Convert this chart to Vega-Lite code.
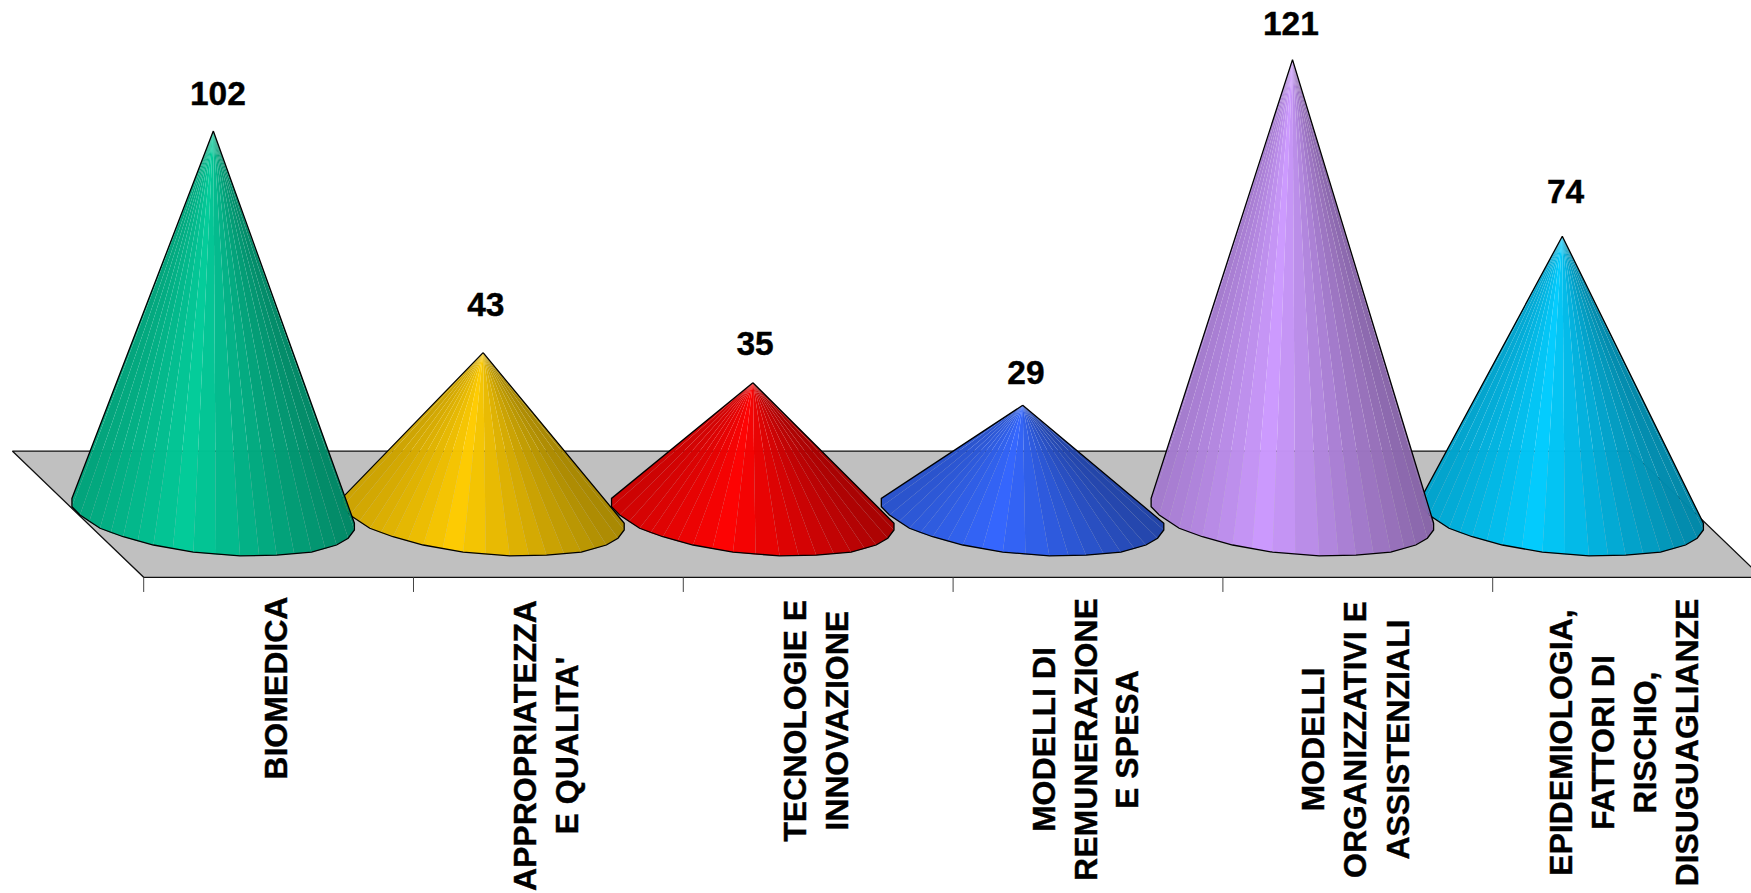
{"$schema":"https://vega.github.io/schema/vega-lite/v6.json","width":1751,"height":893,"autosize":{"type":"fit","contains":"padding"},"padding":0,"background":"white","view":{"stroke":null},
"datasets":{
"plane":[{"x":-0.745,"y":16.8},{"x":5.253,"y":16.8},{"x":5.74,"y":-16.8},{"x":-0.258,"y":-16.8},{"x":-0.745,"y":16.8}],
"ticks":[{"x":-0.258,"y":-16.8,"y2":-20.7},{"x":0.742,"y":-16.8,"y2":-20.7},{"x":1.742,"y":-16.8,"y2":-20.7},{"x":2.742,"y":-16.8,"y2":-20.7},{"x":3.742,"y":-16.8,"y2":-20.7},{"x":4.742,"y":-16.8,"y2":-20.7}],
"values":[{"name":"BIOMEDICA","value":102,"x":0.017,"y":111.6},{"name":"APPROPRIATEZZA E QUALITA'","value":43,"x":1.01,"y":55.4},{"name":"TECNOLOGIE E INNOVAZIONE","value":35,"x":2.008,"y":45},{"name":"MODELLI DI REMUNERAZIONE E SPESA","value":29,"x":3.012,"y":37.2},{"name":"MODELLI ORGANIZZATIVI E ASSISTENZIALI","value":121,"x":3.994,"y":130.1},{"name":"EPIDEMIOLOGIA, FATTORI DI RISCHIO, DISUGUAGLIANZE","value":74,"x":5.012,"y":85.5}],
"names":[{"line":"BIOMEDICA","x":0.236,"y":-46.3},{"line":"APPROPRIATEZZA","x":1.158,"y":-61.6},{"line":"E QUALITA'","x":1.316,"y":-61.6},{"line":"TECNOLOGIE E","x":2.159,"y":-55},{"line":"INNOVAZIONE","x":2.314,"y":-55},{"line":"MODELLI DI","x":3.083,"y":-60},{"line":"REMUNERAZIONE","x":3.237,"y":-60},{"line":"E SPESA","x":3.392,"y":-60},{"line":"MODELLI","x":4.081,"y":-60},{"line":"ORGANIZZATIVI E","x":4.236,"y":-60},{"line":"ASSISTENZIALI","x":4.395,"y":-60},{"line":"EPIDEMIOLOGIA,","x":5,"y":-60.8},{"line":"FATTORI DI","x":5.156,"y":-60.8},{"line":"RISCHIO,","x":5.311,"y":-60.8},{"line":"DISUGUAGLIANZE","x":5.466,"y":-60.8}],
"outline0":[{"x":0,"y":102},{"x":-0.524,"y":4.2},{"x":-0.524,"y":2},{"x":-0.494,"y":-0.2},{"x":-0.42,"y":-3.75},{"x":-0.334,"y":-6},{"x":-0.222,"y":-8.2},{"x":-0.074,"y":-10.1},{"x":0.099,"y":-11.1},{"x":0.235,"y":-10.9},{"x":0.364,"y":-10.1},{"x":0.457,"y":-8.2},{"x":0.5,"y":-6.4},{"x":0.523,"y":-4.2},{"x":0.523,"y":-2.4},{"x":0,"y":102}],
"outline1":[{"x":1,"y":43},{"x":0.476,"y":4.2},{"x":0.476,"y":2},{"x":0.506,"y":-0.2},{"x":0.58,"y":-3.75},{"x":0.666,"y":-6},{"x":0.778,"y":-8.2},{"x":0.926,"y":-10.1},{"x":1.099,"y":-11.1},{"x":1.235,"y":-10.9},{"x":1.364,"y":-10.1},{"x":1.457,"y":-8.2},{"x":1.5,"y":-6.4},{"x":1.523,"y":-4.2},{"x":1.523,"y":-2.4},{"x":1,"y":43}],
"outline2":[{"x":2,"y":35},{"x":1.476,"y":4.2},{"x":1.476,"y":2},{"x":1.506,"y":-0.2},{"x":1.58,"y":-3.75},{"x":1.666,"y":-6},{"x":1.778,"y":-8.2},{"x":1.926,"y":-10.1},{"x":2.099,"y":-11.1},{"x":2.235,"y":-10.9},{"x":2.364,"y":-10.1},{"x":2.457,"y":-8.2},{"x":2.5,"y":-6.4},{"x":2.523,"y":-4.2},{"x":2.523,"y":-2.4},{"x":2,"y":35}],
"outline3":[{"x":3,"y":29},{"x":2.476,"y":4.2},{"x":2.476,"y":2},{"x":2.506,"y":-0.2},{"x":2.58,"y":-3.75},{"x":2.666,"y":-6},{"x":2.778,"y":-8.2},{"x":2.926,"y":-10.1},{"x":3.099,"y":-11.1},{"x":3.235,"y":-10.9},{"x":3.364,"y":-10.1},{"x":3.457,"y":-8.2},{"x":3.5,"y":-6.4},{"x":3.523,"y":-4.2},{"x":3.523,"y":-2.4},{"x":3,"y":29}],
"outline4":[{"x":4,"y":121},{"x":3.476,"y":4.2},{"x":3.476,"y":2},{"x":3.506,"y":-0.2},{"x":3.58,"y":-3.75},{"x":3.666,"y":-6},{"x":3.778,"y":-8.2},{"x":3.926,"y":-10.1},{"x":4.099,"y":-11.1},{"x":4.235,"y":-10.9},{"x":4.364,"y":-10.1},{"x":4.457,"y":-8.2},{"x":4.5,"y":-6.4},{"x":4.523,"y":-4.2},{"x":4.523,"y":-2.4},{"x":4,"y":121}],
"outline5":[{"x":5,"y":74},{"x":4.476,"y":4.2},{"x":4.476,"y":2},{"x":4.506,"y":-0.2},{"x":4.58,"y":-3.75},{"x":4.666,"y":-6},{"x":4.778,"y":-8.2},{"x":4.926,"y":-10.1},{"x":5.099,"y":-11.1},{"x":5.235,"y":-10.9},{"x":5.364,"y":-10.1},{"x":5.457,"y":-8.2},{"x":5.5,"y":-6.4},{"x":5.523,"y":-4.2},{"x":5.523,"y":-2.4},{"x":5,"y":74}],
"facets0":[
{"tone":0,"x":0,"y":102},{"tone":0,"x":-0.524,"y":4.2},{"tone":0,"x":-0.524,"y":2},
{"tone":0.01,"x":0,"y":102},{"tone":0.01,"x":-0.524,"y":2},{"tone":0.01,"x":-0.494,"y":-0.2},
{"tone":0.045,"x":0,"y":102},{"tone":0.045,"x":-0.494,"y":-0.2},{"tone":0.045,"x":-0.46,"y":-2},
{"tone":0.08,"x":0,"y":102},{"tone":0.08,"x":-0.46,"y":-2},{"tone":0.08,"x":-0.42,"y":-3.75},
{"tone":0.12,"x":0,"y":102},{"tone":0.12,"x":-0.42,"y":-3.75},{"tone":0.12,"x":-0.38,"y":-5},
{"tone":0.16,"x":0,"y":102},{"tone":0.16,"x":-0.38,"y":-5},{"tone":0.16,"x":-0.334,"y":-6},
{"tone":0.21,"x":0,"y":102},{"tone":0.21,"x":-0.334,"y":-6},{"tone":0.21,"x":-0.28,"y":-7.2},
{"tone":0.26,"x":0,"y":102},{"tone":0.26,"x":-0.28,"y":-7.2},{"tone":0.26,"x":-0.222,"y":-8.2},
{"tone":0.32,"x":0,"y":102},{"tone":0.32,"x":-0.222,"y":-8.2},{"tone":0.32,"x":-0.15,"y":-9.2},
{"tone":0.39,"x":0,"y":102},{"tone":0.39,"x":-0.15,"y":-9.2},{"tone":0.39,"x":-0.074,"y":-10.1},
{"tone":0.47,"x":0,"y":102},{"tone":0.47,"x":-0.074,"y":-10.1},{"tone":0.47,"x":0.01,"y":-10.7},
{"tone":0.55,"x":0,"y":102},{"tone":0.55,"x":0.01,"y":-10.7},{"tone":0.55,"x":0.099,"y":-11.1},
{"tone":0.63,"x":0,"y":102},{"tone":0.63,"x":0.099,"y":-11.1},{"tone":0.63,"x":0.17,"y":-11.05},
{"tone":0.69,"x":0,"y":102},{"tone":0.69,"x":0.17,"y":-11.05},{"tone":0.69,"x":0.235,"y":-10.9},
{"tone":0.76,"x":0,"y":102},{"tone":0.76,"x":0.235,"y":-10.9},{"tone":0.76,"x":0.3,"y":-10.5},
{"tone":0.82,"x":0,"y":102},{"tone":0.82,"x":0.3,"y":-10.5},{"tone":0.82,"x":0.364,"y":-10.1},
{"tone":0.87,"x":0,"y":102},{"tone":0.87,"x":0.364,"y":-10.1},{"tone":0.87,"x":0.415,"y":-9.2},
{"tone":0.92,"x":0,"y":102},{"tone":0.92,"x":0.415,"y":-9.2},{"tone":0.92,"x":0.457,"y":-8.2},
{"tone":0.96,"x":0,"y":102},{"tone":0.96,"x":0.457,"y":-8.2},{"tone":0.96,"x":0.5,"y":-6.4},
{"tone":0.99,"x":0,"y":102},{"tone":0.99,"x":0.5,"y":-6.4},{"tone":0.99,"x":0.523,"y":-4.2},
{"tone":1,"x":0,"y":102},{"tone":1,"x":0.523,"y":-4.2},{"tone":1,"x":0.523,"y":-2.4}],
"facets1":[
{"tone":0,"x":1,"y":43},{"tone":0,"x":0.476,"y":4.2},{"tone":0,"x":0.476,"y":2},
{"tone":0.01,"x":1,"y":43},{"tone":0.01,"x":0.476,"y":2},{"tone":0.01,"x":0.506,"y":-0.2},
{"tone":0.045,"x":1,"y":43},{"tone":0.045,"x":0.506,"y":-0.2},{"tone":0.045,"x":0.54,"y":-2},
{"tone":0.08,"x":1,"y":43},{"tone":0.08,"x":0.54,"y":-2},{"tone":0.08,"x":0.58,"y":-3.75},
{"tone":0.12,"x":1,"y":43},{"tone":0.12,"x":0.58,"y":-3.75},{"tone":0.12,"x":0.62,"y":-5},
{"tone":0.16,"x":1,"y":43},{"tone":0.16,"x":0.62,"y":-5},{"tone":0.16,"x":0.666,"y":-6},
{"tone":0.21,"x":1,"y":43},{"tone":0.21,"x":0.666,"y":-6},{"tone":0.21,"x":0.72,"y":-7.2},
{"tone":0.26,"x":1,"y":43},{"tone":0.26,"x":0.72,"y":-7.2},{"tone":0.26,"x":0.778,"y":-8.2},
{"tone":0.32,"x":1,"y":43},{"tone":0.32,"x":0.778,"y":-8.2},{"tone":0.32,"x":0.85,"y":-9.2},
{"tone":0.39,"x":1,"y":43},{"tone":0.39,"x":0.85,"y":-9.2},{"tone":0.39,"x":0.926,"y":-10.1},
{"tone":0.47,"x":1,"y":43},{"tone":0.47,"x":0.926,"y":-10.1},{"tone":0.47,"x":1.01,"y":-10.7},
{"tone":0.55,"x":1,"y":43},{"tone":0.55,"x":1.01,"y":-10.7},{"tone":0.55,"x":1.099,"y":-11.1},
{"tone":0.63,"x":1,"y":43},{"tone":0.63,"x":1.099,"y":-11.1},{"tone":0.63,"x":1.17,"y":-11.05},
{"tone":0.69,"x":1,"y":43},{"tone":0.69,"x":1.17,"y":-11.05},{"tone":0.69,"x":1.235,"y":-10.9},
{"tone":0.76,"x":1,"y":43},{"tone":0.76,"x":1.235,"y":-10.9},{"tone":0.76,"x":1.3,"y":-10.5},
{"tone":0.82,"x":1,"y":43},{"tone":0.82,"x":1.3,"y":-10.5},{"tone":0.82,"x":1.364,"y":-10.1},
{"tone":0.87,"x":1,"y":43},{"tone":0.87,"x":1.364,"y":-10.1},{"tone":0.87,"x":1.415,"y":-9.2},
{"tone":0.92,"x":1,"y":43},{"tone":0.92,"x":1.415,"y":-9.2},{"tone":0.92,"x":1.457,"y":-8.2},
{"tone":0.96,"x":1,"y":43},{"tone":0.96,"x":1.457,"y":-8.2},{"tone":0.96,"x":1.5,"y":-6.4},
{"tone":0.99,"x":1,"y":43},{"tone":0.99,"x":1.5,"y":-6.4},{"tone":0.99,"x":1.523,"y":-4.2},
{"tone":1,"x":1,"y":43},{"tone":1,"x":1.523,"y":-4.2},{"tone":1,"x":1.523,"y":-2.4}],
"facets2":[
{"tone":0,"x":2,"y":35},{"tone":0,"x":1.476,"y":4.2},{"tone":0,"x":1.476,"y":2},
{"tone":0.01,"x":2,"y":35},{"tone":0.01,"x":1.476,"y":2},{"tone":0.01,"x":1.506,"y":-0.2},
{"tone":0.045,"x":2,"y":35},{"tone":0.045,"x":1.506,"y":-0.2},{"tone":0.045,"x":1.54,"y":-2},
{"tone":0.08,"x":2,"y":35},{"tone":0.08,"x":1.54,"y":-2},{"tone":0.08,"x":1.58,"y":-3.75},
{"tone":0.12,"x":2,"y":35},{"tone":0.12,"x":1.58,"y":-3.75},{"tone":0.12,"x":1.62,"y":-5},
{"tone":0.16,"x":2,"y":35},{"tone":0.16,"x":1.62,"y":-5},{"tone":0.16,"x":1.666,"y":-6},
{"tone":0.21,"x":2,"y":35},{"tone":0.21,"x":1.666,"y":-6},{"tone":0.21,"x":1.72,"y":-7.2},
{"tone":0.26,"x":2,"y":35},{"tone":0.26,"x":1.72,"y":-7.2},{"tone":0.26,"x":1.778,"y":-8.2},
{"tone":0.32,"x":2,"y":35},{"tone":0.32,"x":1.778,"y":-8.2},{"tone":0.32,"x":1.85,"y":-9.2},
{"tone":0.39,"x":2,"y":35},{"tone":0.39,"x":1.85,"y":-9.2},{"tone":0.39,"x":1.926,"y":-10.1},
{"tone":0.47,"x":2,"y":35},{"tone":0.47,"x":1.926,"y":-10.1},{"tone":0.47,"x":2.01,"y":-10.7},
{"tone":0.55,"x":2,"y":35},{"tone":0.55,"x":2.01,"y":-10.7},{"tone":0.55,"x":2.099,"y":-11.1},
{"tone":0.63,"x":2,"y":35},{"tone":0.63,"x":2.099,"y":-11.1},{"tone":0.63,"x":2.17,"y":-11.05},
{"tone":0.69,"x":2,"y":35},{"tone":0.69,"x":2.17,"y":-11.05},{"tone":0.69,"x":2.235,"y":-10.9},
{"tone":0.76,"x":2,"y":35},{"tone":0.76,"x":2.235,"y":-10.9},{"tone":0.76,"x":2.3,"y":-10.5},
{"tone":0.82,"x":2,"y":35},{"tone":0.82,"x":2.3,"y":-10.5},{"tone":0.82,"x":2.364,"y":-10.1},
{"tone":0.87,"x":2,"y":35},{"tone":0.87,"x":2.364,"y":-10.1},{"tone":0.87,"x":2.415,"y":-9.2},
{"tone":0.92,"x":2,"y":35},{"tone":0.92,"x":2.415,"y":-9.2},{"tone":0.92,"x":2.457,"y":-8.2},
{"tone":0.96,"x":2,"y":35},{"tone":0.96,"x":2.457,"y":-8.2},{"tone":0.96,"x":2.5,"y":-6.4},
{"tone":0.99,"x":2,"y":35},{"tone":0.99,"x":2.5,"y":-6.4},{"tone":0.99,"x":2.523,"y":-4.2},
{"tone":1,"x":2,"y":35},{"tone":1,"x":2.523,"y":-4.2},{"tone":1,"x":2.523,"y":-2.4}],
"facets3":[
{"tone":0,"x":3,"y":29},{"tone":0,"x":2.476,"y":4.2},{"tone":0,"x":2.476,"y":2},
{"tone":0.01,"x":3,"y":29},{"tone":0.01,"x":2.476,"y":2},{"tone":0.01,"x":2.506,"y":-0.2},
{"tone":0.045,"x":3,"y":29},{"tone":0.045,"x":2.506,"y":-0.2},{"tone":0.045,"x":2.54,"y":-2},
{"tone":0.08,"x":3,"y":29},{"tone":0.08,"x":2.54,"y":-2},{"tone":0.08,"x":2.58,"y":-3.75},
{"tone":0.12,"x":3,"y":29},{"tone":0.12,"x":2.58,"y":-3.75},{"tone":0.12,"x":2.62,"y":-5},
{"tone":0.16,"x":3,"y":29},{"tone":0.16,"x":2.62,"y":-5},{"tone":0.16,"x":2.666,"y":-6},
{"tone":0.21,"x":3,"y":29},{"tone":0.21,"x":2.666,"y":-6},{"tone":0.21,"x":2.72,"y":-7.2},
{"tone":0.26,"x":3,"y":29},{"tone":0.26,"x":2.72,"y":-7.2},{"tone":0.26,"x":2.778,"y":-8.2},
{"tone":0.32,"x":3,"y":29},{"tone":0.32,"x":2.778,"y":-8.2},{"tone":0.32,"x":2.85,"y":-9.2},
{"tone":0.39,"x":3,"y":29},{"tone":0.39,"x":2.85,"y":-9.2},{"tone":0.39,"x":2.926,"y":-10.1},
{"tone":0.47,"x":3,"y":29},{"tone":0.47,"x":2.926,"y":-10.1},{"tone":0.47,"x":3.01,"y":-10.7},
{"tone":0.55,"x":3,"y":29},{"tone":0.55,"x":3.01,"y":-10.7},{"tone":0.55,"x":3.099,"y":-11.1},
{"tone":0.63,"x":3,"y":29},{"tone":0.63,"x":3.099,"y":-11.1},{"tone":0.63,"x":3.17,"y":-11.05},
{"tone":0.69,"x":3,"y":29},{"tone":0.69,"x":3.17,"y":-11.05},{"tone":0.69,"x":3.235,"y":-10.9},
{"tone":0.76,"x":3,"y":29},{"tone":0.76,"x":3.235,"y":-10.9},{"tone":0.76,"x":3.3,"y":-10.5},
{"tone":0.82,"x":3,"y":29},{"tone":0.82,"x":3.3,"y":-10.5},{"tone":0.82,"x":3.364,"y":-10.1},
{"tone":0.87,"x":3,"y":29},{"tone":0.87,"x":3.364,"y":-10.1},{"tone":0.87,"x":3.415,"y":-9.2},
{"tone":0.92,"x":3,"y":29},{"tone":0.92,"x":3.415,"y":-9.2},{"tone":0.92,"x":3.457,"y":-8.2},
{"tone":0.96,"x":3,"y":29},{"tone":0.96,"x":3.457,"y":-8.2},{"tone":0.96,"x":3.5,"y":-6.4},
{"tone":0.99,"x":3,"y":29},{"tone":0.99,"x":3.5,"y":-6.4},{"tone":0.99,"x":3.523,"y":-4.2},
{"tone":1,"x":3,"y":29},{"tone":1,"x":3.523,"y":-4.2},{"tone":1,"x":3.523,"y":-2.4}],
"facets4":[
{"tone":0,"x":4,"y":121},{"tone":0,"x":3.476,"y":4.2},{"tone":0,"x":3.476,"y":2},
{"tone":0.01,"x":4,"y":121},{"tone":0.01,"x":3.476,"y":2},{"tone":0.01,"x":3.506,"y":-0.2},
{"tone":0.045,"x":4,"y":121},{"tone":0.045,"x":3.506,"y":-0.2},{"tone":0.045,"x":3.54,"y":-2},
{"tone":0.08,"x":4,"y":121},{"tone":0.08,"x":3.54,"y":-2},{"tone":0.08,"x":3.58,"y":-3.75},
{"tone":0.12,"x":4,"y":121},{"tone":0.12,"x":3.58,"y":-3.75},{"tone":0.12,"x":3.62,"y":-5},
{"tone":0.16,"x":4,"y":121},{"tone":0.16,"x":3.62,"y":-5},{"tone":0.16,"x":3.666,"y":-6},
{"tone":0.21,"x":4,"y":121},{"tone":0.21,"x":3.666,"y":-6},{"tone":0.21,"x":3.72,"y":-7.2},
{"tone":0.26,"x":4,"y":121},{"tone":0.26,"x":3.72,"y":-7.2},{"tone":0.26,"x":3.778,"y":-8.2},
{"tone":0.32,"x":4,"y":121},{"tone":0.32,"x":3.778,"y":-8.2},{"tone":0.32,"x":3.85,"y":-9.2},
{"tone":0.39,"x":4,"y":121},{"tone":0.39,"x":3.85,"y":-9.2},{"tone":0.39,"x":3.926,"y":-10.1},
{"tone":0.47,"x":4,"y":121},{"tone":0.47,"x":3.926,"y":-10.1},{"tone":0.47,"x":4.01,"y":-10.7},
{"tone":0.55,"x":4,"y":121},{"tone":0.55,"x":4.01,"y":-10.7},{"tone":0.55,"x":4.099,"y":-11.1},
{"tone":0.63,"x":4,"y":121},{"tone":0.63,"x":4.099,"y":-11.1},{"tone":0.63,"x":4.17,"y":-11.05},
{"tone":0.69,"x":4,"y":121},{"tone":0.69,"x":4.17,"y":-11.05},{"tone":0.69,"x":4.235,"y":-10.9},
{"tone":0.76,"x":4,"y":121},{"tone":0.76,"x":4.235,"y":-10.9},{"tone":0.76,"x":4.3,"y":-10.5},
{"tone":0.82,"x":4,"y":121},{"tone":0.82,"x":4.3,"y":-10.5},{"tone":0.82,"x":4.364,"y":-10.1},
{"tone":0.87,"x":4,"y":121},{"tone":0.87,"x":4.364,"y":-10.1},{"tone":0.87,"x":4.415,"y":-9.2},
{"tone":0.92,"x":4,"y":121},{"tone":0.92,"x":4.415,"y":-9.2},{"tone":0.92,"x":4.457,"y":-8.2},
{"tone":0.96,"x":4,"y":121},{"tone":0.96,"x":4.457,"y":-8.2},{"tone":0.96,"x":4.5,"y":-6.4},
{"tone":0.99,"x":4,"y":121},{"tone":0.99,"x":4.5,"y":-6.4},{"tone":0.99,"x":4.523,"y":-4.2},
{"tone":1,"x":4,"y":121},{"tone":1,"x":4.523,"y":-4.2},{"tone":1,"x":4.523,"y":-2.4}],
"facets5":[
{"tone":0,"x":5,"y":74},{"tone":0,"x":4.476,"y":4.2},{"tone":0,"x":4.476,"y":2},
{"tone":0.01,"x":5,"y":74},{"tone":0.01,"x":4.476,"y":2},{"tone":0.01,"x":4.506,"y":-0.2},
{"tone":0.045,"x":5,"y":74},{"tone":0.045,"x":4.506,"y":-0.2},{"tone":0.045,"x":4.54,"y":-2},
{"tone":0.08,"x":5,"y":74},{"tone":0.08,"x":4.54,"y":-2},{"tone":0.08,"x":4.58,"y":-3.75},
{"tone":0.12,"x":5,"y":74},{"tone":0.12,"x":4.58,"y":-3.75},{"tone":0.12,"x":4.62,"y":-5},
{"tone":0.16,"x":5,"y":74},{"tone":0.16,"x":4.62,"y":-5},{"tone":0.16,"x":4.666,"y":-6},
{"tone":0.21,"x":5,"y":74},{"tone":0.21,"x":4.666,"y":-6},{"tone":0.21,"x":4.72,"y":-7.2},
{"tone":0.26,"x":5,"y":74},{"tone":0.26,"x":4.72,"y":-7.2},{"tone":0.26,"x":4.778,"y":-8.2},
{"tone":0.32,"x":5,"y":74},{"tone":0.32,"x":4.778,"y":-8.2},{"tone":0.32,"x":4.85,"y":-9.2},
{"tone":0.39,"x":5,"y":74},{"tone":0.39,"x":4.85,"y":-9.2},{"tone":0.39,"x":4.926,"y":-10.1},
{"tone":0.47,"x":5,"y":74},{"tone":0.47,"x":4.926,"y":-10.1},{"tone":0.47,"x":5.01,"y":-10.7},
{"tone":0.55,"x":5,"y":74},{"tone":0.55,"x":5.01,"y":-10.7},{"tone":0.55,"x":5.099,"y":-11.1},
{"tone":0.63,"x":5,"y":74},{"tone":0.63,"x":5.099,"y":-11.1},{"tone":0.63,"x":5.17,"y":-11.05},
{"tone":0.69,"x":5,"y":74},{"tone":0.69,"x":5.17,"y":-11.05},{"tone":0.69,"x":5.235,"y":-10.9},
{"tone":0.76,"x":5,"y":74},{"tone":0.76,"x":5.235,"y":-10.9},{"tone":0.76,"x":5.3,"y":-10.5},
{"tone":0.82,"x":5,"y":74},{"tone":0.82,"x":5.3,"y":-10.5},{"tone":0.82,"x":5.364,"y":-10.1},
{"tone":0.87,"x":5,"y":74},{"tone":0.87,"x":5.364,"y":-10.1},{"tone":0.87,"x":5.415,"y":-9.2},
{"tone":0.92,"x":5,"y":74},{"tone":0.92,"x":5.415,"y":-9.2},{"tone":0.92,"x":5.457,"y":-8.2},
{"tone":0.96,"x":5,"y":74},{"tone":0.96,"x":5.457,"y":-8.2},{"tone":0.96,"x":5.5,"y":-6.4},
{"tone":0.99,"x":5,"y":74},{"tone":0.99,"x":5.5,"y":-6.4},{"tone":0.99,"x":5.523,"y":-4.2},
{"tone":1,"x":5,"y":74},{"tone":1,"x":5.523,"y":-4.2},{"tone":1,"x":5.523,"y":-2.4}]
},
"encoding":{
"x":{"field":"x","type":"quantitative","axis":null,"scale":{"domain":[-0.7906,5.6994],"nice":false,"zero":false}},
"y":{"field":"y","type":"quantitative","axis":null,"scale":{"domain":[-100.83,136.87],"nice":false,"zero":false}}
},
"layer":[
{"data":{"name":"plane"},"mark":{"type":"line","fill":"#C0C0C0","stroke":"#111111","strokeWidth":1.3,"clip":true},"encoding":{"order":{"value":null}}},
{"data":{"name":"ticks"},"mark":{"type":"rule","stroke":"#444444","strokeWidth":1},"encoding":{"y2":{"field":"y2"}}},
{"data":{"name":"facets5"},"mark":{"type":"line","strokeWidth":0,"fillOpacity":0.985},"encoding":{"order":{"value":null},"detail":{"field":"tone","type":"quantitative"},"fill":{"field":"tone","type":"quantitative","legend":null,"scale":{"domain":[0,0.4,1],"range":["#00A3CC","#00CCFF","#0087A8"]}}}},
{"data":{"name":"outline5"},"mark":{"type":"line","stroke":"#000000","strokeWidth":1.3},"encoding":{"order":{"value":null}}},
{"data":{"name":"facets4"},"mark":{"type":"line","strokeWidth":0,"fillOpacity":0.985},"encoding":{"order":{"value":null},"detail":{"field":"tone","type":"quantitative"},"fill":{"field":"tone","type":"quantitative","legend":null,"scale":{"domain":[0,0.4,1],"range":["#A37ACC","#CC99FF","#8765A8"]}}}},
{"data":{"name":"outline4"},"mark":{"type":"line","stroke":"#000000","strokeWidth":1.3},"encoding":{"order":{"value":null}}},
{"data":{"name":"facets3"},"mark":{"type":"line","strokeWidth":0,"fillOpacity":0.985},"encoding":{"order":{"value":null},"detail":{"field":"tone","type":"quantitative"},"fill":{"field":"tone","type":"quantitative","legend":null,"scale":{"domain":[0,0.4,1],"range":["#2952CC","#3366FF","#2243A8"]}}}},
{"data":{"name":"outline3"},"mark":{"type":"line","stroke":"#000000","strokeWidth":1.3},"encoding":{"order":{"value":null}}},
{"data":{"name":"facets2"},"mark":{"type":"line","strokeWidth":0,"fillOpacity":0.985},"encoding":{"order":{"value":null},"detail":{"field":"tone","type":"quantitative"},"fill":{"field":"tone","type":"quantitative","legend":null,"scale":{"domain":[0,0.4,1],"range":["#CC0000","#FF0000","#A80000"]}}}},
{"data":{"name":"outline2"},"mark":{"type":"line","stroke":"#000000","strokeWidth":1.3},"encoding":{"order":{"value":null}}},
{"data":{"name":"facets1"},"mark":{"type":"line","strokeWidth":0,"fillOpacity":0.985},"encoding":{"order":{"value":null},"detail":{"field":"tone","type":"quantitative"},"fill":{"field":"tone","type":"quantitative","legend":null,"scale":{"domain":[0,0.4,1],"range":["#CCA300","#FFCC00","#A88700"]}}}},
{"data":{"name":"outline1"},"mark":{"type":"line","stroke":"#000000","strokeWidth":1.3},"encoding":{"order":{"value":null}}},
{"data":{"name":"facets0"},"mark":{"type":"line","strokeWidth":0,"fillOpacity":0.985},"encoding":{"order":{"value":null},"detail":{"field":"tone","type":"quantitative"},"fill":{"field":"tone","type":"quantitative","legend":null,"scale":{"domain":[0,0.4,1],"range":["#00A37A","#00CC99","#008765"]}}}},
{"data":{"name":"outline0"},"mark":{"type":"line","stroke":"#000000","strokeWidth":1.3},"encoding":{"order":{"value":null}}},
{"data":{"name":"values"},"mark":{"type":"text","font":"Liberation Sans","fontWeight":"bold","fontSize":33.5,"color":"black","stroke":"black","strokeWidth":0.4,"align":"center","baseline":"middle"},"encoding":{"text":{"field":"value","type":"quantitative"}}},
{"data":{"name":"names"},"mark":{"type":"text","font":"Liberation Sans","fontWeight":"bold","fontSize":32,"color":"black","stroke":"black","strokeWidth":0.4,"align":"center","baseline":"middle","angle":270},"encoding":{"text":{"field":"line","type":"nominal"}}}
],
"resolve":{"scale":{"fill":"independent"}}
}
